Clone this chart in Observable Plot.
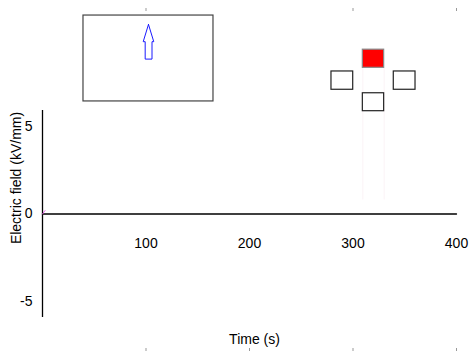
<!DOCTYPE html>
<html>
<head>
<meta charset="utf-8">
<script src="https://cdn.jsdelivr.net/npm/d3@7"></script>
<script src="https://cdn.jsdelivr.net/npm/@observablehq/plot@0.6"></script>
<style>
  html, body { margin: 0; padding: 0; background: #fff; }
  #chart { width: 469px; height: 351px; }
</style>
</head>
<body>
<div id="chart"></div>
<script>
// ---- data ----
const time = [0, 400];            // s
const field = [0, 0];             // kV/mm
const probeTime = [0, 2.5];       // s
const probeField = [0, 0.2];      // kV/mm
const xTickValues = [100, 200, 300, 400];
const xTopTickValues = [100, 300, 400];
const yTickValues = [-5, 0, 5];
const xLabel = "Time (s)";
const yLabel = "Electric field (kV/mm)";

// ---- inset schematic (drawn in the axes' units, outside the frame) ----
const insetBox = [{x1: 39.6, x2: 165.2, y1: 6.46, y2: 11.39}];
const arrowOutline = [
  [102.4, 10.88], [107.5, 9.89], [105.8, 9.89], [105.8, 8.89],
  [99.2, 8.89], [99.2, 9.89], [97.3, 9.89], [102.4, 10.88]
].map(([x, y]) => ({x, y}));
const electrodes = [
  {x1: 309.5, x2: 330.1, y1: 8.39, y2: 9.43, on: true},
  {x1: 279.2, x2: 300.2, y1: 7.13, y2: 8.18, on: false},
  {x1: 339.4, x2: 360.4, y1: 7.13, y2: 8.18, on: false},
  {x1: 309.5, x2: 330.1, y1: 5.90, y2: 6.93, on: false}
];
const guideLines = [309.5, 330.1];

const series = time.map((t, i) => ({t, v: field[i]}));
const probe = probeTime.map((t, i) => ({t, v: probeField[i]}));

const chart = Plot.plot({
  width: 469,
  height: 351,
  marginLeft: 42,
  marginRight: 13,
  marginTop: 110,
  marginBottom: 34,
  style: {fontFamily: "'Liberation Sans', Arial, Helvetica, sans-serif", fontSize: "14px", background: "white", color: "black"},
  x: {domain: [0, 400], label: null},
  y: {domain: [-5.94, 5.94], label: null},
  marks: [
    // faint guide lines below the active electrode
    Plot.ruleX(guideLines, {y1: 0.8, y2: 8.39, stroke: "#fbf3f6", strokeWidth: 1}),
    // axes
    Plot.axisY({anchor: "left", ticks: yTickValues, tickFormat: d => String(d), tickSize: 0, tickPadding: 10, label: null}),
    Plot.axisX({anchor: "bottom", ticks: xTickValues, tickFormat: d => String(d), tickSize: 0, dy: -88, label: null}),
    Plot.axisX({anchor: "bottom", ticks: xTickValues, tickSize: 3, fill: "none", stroke: "#999", dy: 31, label: null}),
    Plot.axisX({anchor: "top", ticks: xTopTickValues, tickSize: 3, fill: "none", stroke: "#999", dy: -100, label: null}),
    Plot.ruleX([0], {stroke: "black", strokeWidth: 1.3}),
    // data
    Plot.line(series, {x: "t", y: "v", stroke: "black", strokeWidth: 1.3}),
    Plot.line(probe, {x: "t", y: "v", stroke: "#ee66ee", strokeWidth: 1}),
    // axis titles
    Plot.text([xLabel], {frameAnchor: "bottom", dx: 5, dy: 26.5, lineAnchor: "bottom", textAnchor: "middle", fill: "black"}),
    Plot.text([yLabel], {frameAnchor: "left", dx: -21.5, dy: -36, rotate: -90, lineAnchor: "bottom", textAnchor: "middle", fill: "black"}),
    // inset: sample with field direction
    Plot.rect(insetBox, {x1: "x1", x2: "x2", y1: "y1", y2: "y2", fill: "none", stroke: "#444", strokeWidth: 1.2}),
    Plot.line(arrowOutline, {x: "x", y: "y", stroke: "#1a1aff", strokeWidth: 1, strokeLinejoin: "miter"}),
    // inset: electrode layout
    Plot.rect(electrodes, {x1: "x1", x2: "x2", y1: "y1", y2: "y2",
      fill: d => d.on ? "#ff0000" : "white", stroke: d => d.on ? "#888" : "#222", strokeWidth: 1.2})
  ]
});
document.getElementById("chart").appendChild(chart);
</script>
</body>
</html>
